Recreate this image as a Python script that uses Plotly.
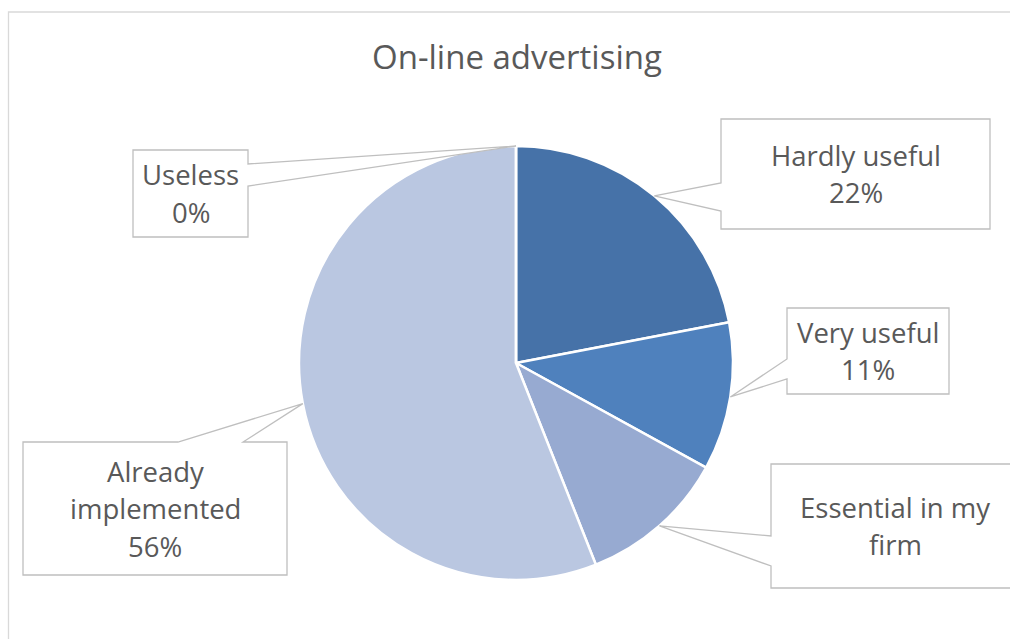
import math
import plotly.graph_objects as go

W, H = 1010, 639

# Survey answers, clockwise from 12 o'clock
categories = ["Hardly useful", "Very useful", "Essential in my firm",
              "Already implemented", "Useless"]
values = [22, 11, 11, 56, 0]
colors = ["#4672A8", "#4F81BD", "#97AAD1", "#BAC7E1", "#DCE3F0"]

# Label text lines (category name wrapped as displayed) and whether the share is appended
name_lines = [["Hardly useful"], ["Very useful"], ["Essential in my", "firm"],
              ["Already", "implemented"], ["Useless"]]
show_pct = [True, True, False, True, True]

title_text = "On-line advertising"

# Pie geometry in pixels
CX, CY, R = 516, 363, 217

# Callout boxes: (x0, x1, y0, y1, side, p0, p1) in pixels; p0/p1 are where the pointer meets the edge
boxes = [
    (721, 990, 119, 229, "left", 183, 211),
    (787, 949, 308, 394, "left", 359, 379),
    (771, 1019, 464, 588, "left", 536, 566),
    (23, 287, 442, 575, "top", 178, 243),
    (133, 248, 150, 237, "right", 164, 186),
]

FONT = "Open Sans, Calibri, Carlito, sans-serif"
TXT = "#595959"
LINE_H = 37.5
LABEL_SIZE = 27.5


def px(x):
    return x / W


def py(y):
    return 1 - y / H


fig = go.Figure(go.Pie(
    labels=categories,
    values=values,
    sort=False,
    direction="clockwise",
    rotation=0,
    marker=dict(colors=colors, line=dict(color="white", width=2.5)),
    textinfo="none",
    hoverinfo="label+percent",
    showlegend=False,
    domain=dict(x=[px(CX - R), px(CX + R)], y=[py(CY + R), py(CY - R)]),
))

shapes = []
annotations = []

# Chart area frame
shapes.append(dict(type="rect", xref="paper", yref="paper",
                   x0=px(8.5), x1=px(1030), y0=py(660), y1=py(12),
                   line=dict(color="#D9D9D9", width=1.3), fillcolor="rgba(0,0,0,0)",
                   layer="below"))

total = sum(values)
cum = 0.0
for i, v in enumerate(values):
    theta = 2 * math.pi * (cum + v / 2) / total
    cum += v
    ax = CX + R * math.sin(theta)
    ay = CY - R * math.cos(theta)
    x0, x1, y0, y1, side, p0, p1 = boxes[i]
    if side == "left":
        pts = [(x0, y0), (x1, y0), (x1, y1), (x0, y1), (x0, p1), (ax, ay), (x0, p0)]
    elif side == "right":
        pts = [(x0, y0), (x1, y0), (x1, p0), (ax, ay), (x1, p1), (x1, y1), (x0, y1)]
    else:
        pts = [(x0, y0), (p0, y0), (ax, ay), (p1, y0), (x1, y0), (x1, y1), (x0, y1)]
    path = "M " + " L ".join(f"{px(x):.5f},{py(y):.5f}" for x, y in pts) + " Z"
    shapes.append(dict(type="path", xref="paper", yref="paper", path=path,
                       line=dict(color="#BFBFBF", width=1.3), fillcolor="white",
                       layer="above"))

    lines = list(name_lines[i])
    if show_pct[i]:
        lines.append(f"{round(100 * v / total)}%")
    xc = (x0 + x1) / 2
    yc = (y0 + y1) / 2
    n = len(lines)
    for k, t in enumerate(lines):
        yl = yc + (k - (n - 1) / 2) * LINE_H
        annotations.append(dict(text=t, xref="paper", yref="paper",
                                x=px(xc), y=py(yl), xanchor="center", yanchor="middle",
                                showarrow=False,
                                font=dict(family=FONT, size=LABEL_SIZE, color=TXT)))

annotations.append(dict(text=title_text, xref="paper", yref="paper",
                        x=px(517), y=py(56), xanchor="center", yanchor="middle",
                        showarrow=False,
                        font=dict(family=FONT, size=33, color=TXT)))

fig.update_layout(
    width=W, height=H,
    margin=dict(l=0, r=0, t=0, b=0),
    paper_bgcolor="white",
    plot_bgcolor="white",
    shapes=shapes,
    annotations=annotations,
)

fig.write_html("out.html")
